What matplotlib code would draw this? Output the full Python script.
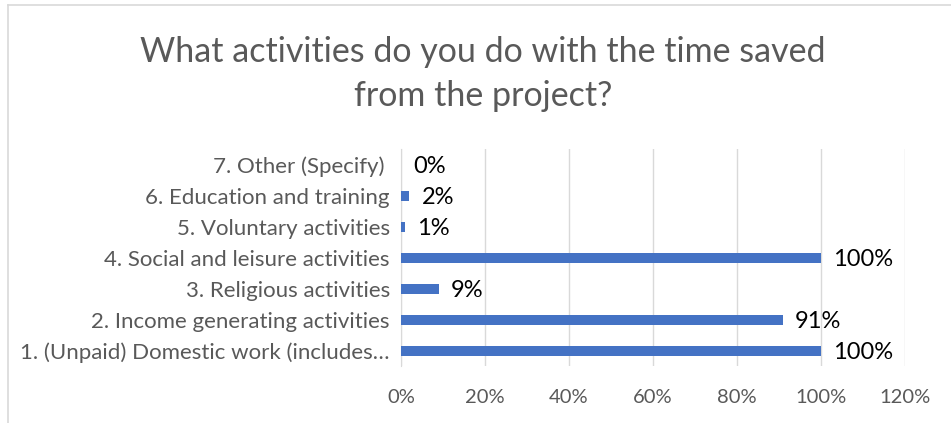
import matplotlib.pyplot as plt
from matplotlib.lines import Line2D

categories = ["1. (Unpaid) Domestic work (includes\u2026",
              "2. Income generating activities",
              "3. Religious activities",
              "4. Social and leisure activities",
              "5. Voluntary activities",
              "6. Education and training",
              "7. Other (Specify) "]
values = [100, 91, 9, 100, 1, 2, 0]
xticks = [0, 20, 40, 60, 80, 100, 120]

plt.rcParams['font.family'] = ['Lato', 'DejaVu Sans']

fig = plt.figure(figsize=(9.51, 4.23), dpi=100)
ax = fig.add_axes([0.4217, 0.1336, 0.53, 0.513])

ypos = list(range(len(categories)))
ax.barh(ypos, values, height=0.33, color='#4472C4', zorder=3)

for y, v in zip(ypos, values):
    ax.annotate(f"{v}%", (v, y), xytext=(8.6, -1), textcoords='offset points',
                va='center', ha='left', fontsize=17, color='black')

ax.set_xlim(0, 120)
ax.set_ylim(-0.5, len(categories) - 0.5)
ax.set_xticks(xticks)
ax.set_xticklabels([f"{t}%" for t in xticks], fontsize=14.5, color='#595959')
ax.set_yticks(ypos)
ax.set_yticklabels(categories, fontsize=16, color='#595959')
ax.tick_params(axis='both', length=0)
ax.tick_params(axis='x', pad=16)
ax.tick_params(axis='y', pad=8)
ax.grid(axis='x', color='#D9D9D9', linewidth=1, zorder=0)
for s in ['top', 'right', 'bottom']:
    ax.spines[s].set_visible(False)
ax.spines['left'].set_color('#D9D9D9')

fig.text(0.508, 0.877, "What activities do you do with the time saved", ha='center',
         va='center', fontsize=24.5, color='#595959')
fig.text(0.508, 0.772, "from the project?", ha='center', va='center',
         fontsize=24.5, color='#595959')

# chart border (cropped)
fig.add_artist(Line2D([0.0085, 1.0], [0.988, 0.988], color='#D9D9D9', lw=1.2))
fig.add_artist(Line2D([0.0085, 0.0085], [0.0, 0.988], color='#D9D9D9', lw=1.2))

fig.savefig('out.png', dpi=100)
